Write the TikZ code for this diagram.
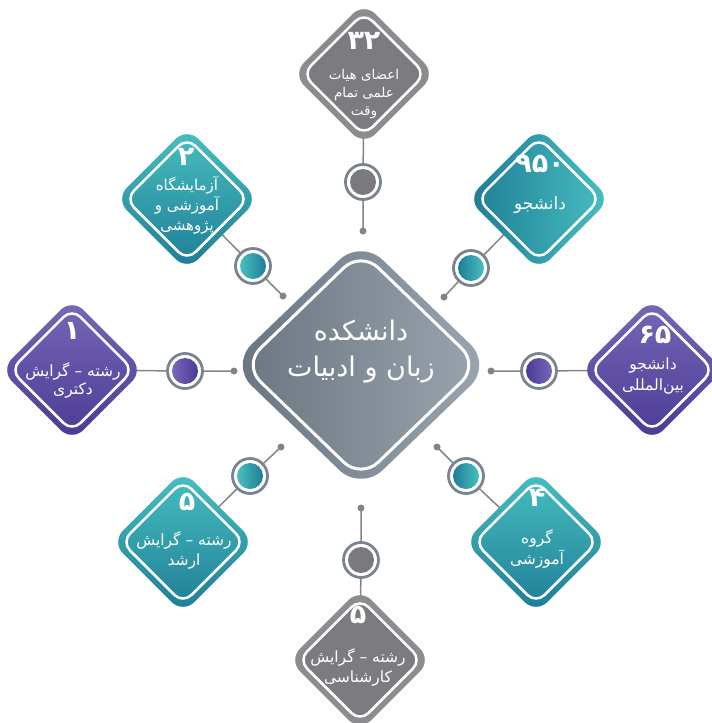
\documentclass[tikz,border=0pt]{standalone}
\usepackage{fontspec}
\usetikzlibrary{shapes.geometric}
\newfontfamily\prsfont[Script=Arabic]{DejaVu Sans}
\TeXXeTstate=1
\newcommand\rtl[1]{\beginR #1\endR}
\pgfdeclarelayer{bg}\pgfsetlayers{bg,main}
\definecolor{tealL}{RGB}{72,192,192}
\definecolor{tealD}{RGB}{30,124,150}
\definecolor{purL}{RGB}{120,104,184}
\definecolor{purD}{RGB}{74,58,148}
\definecolor{grayO}{RGB}{140,140,143}
\definecolor{grayI}{RGB}{124,124,128}
\definecolor{grayC}{RGB}{122,122,126}
\definecolor{slateL}{RGB}{106,116,128}
\definecolor{slateR}{RGB}{156,166,176}
\definecolor{ringc}{RGB}{122,132,144}
\definecolor{wire}{RGB}{132,132,135}
\tikzset{
  satd/.style={shape=diamond, minimum width=143pt, minimum height=143pt, inner sep=0pt, rounded corners=16pt},
  sati/.style={shape=diamond, minimum width=124pt, minimum height=124pt, inner sep=0pt, rounded corners=12pt, draw=white, line width=2.5pt},
  cend/.style={shape=diamond, minimum width=262pt, minimum height=252pt, inner sep=0pt, rounded corners=30pt},
  ceni/.style={shape=diamond, minimum width=237pt, minimum height=229pt, inner sep=0pt, rounded corners=24pt, draw=white, line width=3pt},
  ringn/.style={circle, draw=ringc, line width=2.8pt, fill=white, minimum size=35pt, inner sep=0pt},
  cin/.style={circle, minimum size=26pt, inner sep=0pt},
  dotn/.style={circle, fill=wire, minimum size=7pt, inner sep=0pt},
  wireline/.style={draw=wire, line width=1.5pt},
  txt/.style={text=white, font=\prsfont\fontsize{15.5}{19}\selectfont, align=center, inner sep=0pt},
  num/.style={text=white, font=\prsfont\bfseries\fontsize{27}{27}\selectfont, inner sep=0pt},
  ctxt/.style={text=white, font=\prsfont\fontsize{27}{36}\selectfont, align=center, inner sep=0pt}
}
\begin{document}
\begin{tikzpicture}[x=1pt,y=-1pt]
\useasboundingbox (0,0) rectangle (712,723);
% centre
\node[cend, left color=slateL, right color=slateR] (C) at (361,365) {};
\node[ceni] (Ci) at (C) {};
\node[ctxt] (Ct) at (361,352) {\rtl{دانشکده}\\\rtl{زبان و ادبیات}};
% satellites
\node[satd, fill=grayO] (dT) at (364,74) {};
\node[sati, fill=grayI] (iT) at (dT) {};
\node[num] (nT) at (364,41) {۳۲};
\node[txt, font=\prsfont\fontsize{13.5}{18}\selectfont] (tT) at (364,94) {\rtl{اعضای هیات}\\\rtl{علمی تمام}\\\rtl{وقت}};

\node[satd, top color=tealL, bottom color=tealD] (dTL) at (187,199) {};
\node[sati] (iTL) at (dTL) {};
\node[num] (nTL) at (186,157) {۲};
\node[txt, font=\prsfont\fontsize{15}{20}\selectfont] (tTL) at (187,205) {\rtl{آزمایشگاه}\\\rtl{آموزشی و}\\\rtl{پژوهشی}};

\node[satd, left color=tealD, right color=tealL] (dTR) at (539,199) {};
\node[sati] (iTR) at (dTR) {};
\node[num] (nTR) at (540,164) {۹۵۰};
\node[txt, font=\prsfont\fontsize{17}{20}\selectfont] (tTR) at (540,205) {\rtl{دانشجو}};

\node[satd, top color=purL, bottom color=purD] (dL) at (72,370) {};
\node[sati] (iL) at (dL) {};
\node[num] (nL) at (72,331) {۱};
\node[txt, font=\prsfont\fontsize{15.5}{18}\selectfont] (tL) at (73,380) {\rtl{رشته – گرایش}\\\rtl{دکتری}};

\node[satd, top color=purL, bottom color=purD] (dR) at (652,370) {};
\node[sati] (iR) at (dR) {};
\node[num] (nR) at (655,335) {۶۵};
\node[txt, font=\prsfont\fontsize{15.5}{21}\selectfont] (tR) at (653,376) {\rtl{دانشجو}\\\rtl{بین‌المللی}};

\node[satd, top color=tealL, bottom color=tealD] (dBL) at (183,542) {};
\node[sati] (iBL) at (dBL) {};
\node[num] (nBL) at (187,502) {۵};
\node[txt, font=\prsfont\fontsize{15.5}{20}\selectfont] (tBL) at (184,550) {\rtl{رشته – گرایش}\\\rtl{ارشد}};

\node[satd, top color=tealL, bottom color=tealD] (dBR) at (536,542) {};
\node[sati] (iBR) at (dBR) {};
\node[num] (nBR) at (537,498) {۴};
\node[txt, font=\prsfont\fontsize{15.5}{21}\selectfont] (tBR) at (537,549) {\rtl{گروه}\\\rtl{آموزشی}};

\node[satd, fill=grayO] (dB) at (360,660) {};
\node[sati, fill=grayI] (iB) at (dB) {};
\node[num] (nB) at (358,615) {۵};
\node[txt, font=\prsfont\fontsize{15.5}{20}\selectfont] (tB) at (358,667) {\rtl{رشته – گرایش}\\\rtl{کارشناسی}};
% circles and dots
\node[ringn] (cT) at (363,182) {};  \node[cin, fill=grayC] (fT) at (cT) {};
\node[ringn] (cTL) at (253,266) {}; \node[cin, left color=tealL, right color=tealD] (fTL) at (cTL) {};
\node[ringn] (cTR) at (471,268) {}; \node[cin, left color=tealD, right color=tealL] (fTR) at (cTR) {};
\node[ringn] (cL) at (185,371) {};  \node[cin, left color=purL, right color=purD] (fL) at (cL) {};
\node[ringn] (cR) at (539,371) {};  \node[cin, left color=purD, right color=purL] (fR) at (cR) {};
\node[ringn] (cBL) at (250,476) {}; \node[cin, left color=tealL, right color=tealD] (fBL) at (cBL) {};
\node[ringn] (cBR) at (466,476) {}; \node[cin, left color=tealD, right color=tealL] (fBR) at (cBR) {};
\node[ringn] (cB) at (361,560) {};  \node[cin, fill=grayC] (fB) at (cB) {};
\node[dotn] (pT) at (363,231) {};
\node[dotn] (pTL) at (283,296) {};
\node[dotn] (pTR) at (444,297) {};
\node[dotn] (pL) at (234,371) {};
\node[dotn] (pR) at (491,371) {};
\node[dotn] (pBL) at (281,447) {};
\node[dotn] (pBR) at (437,447) {};
\node[dotn] (pB) at (361,508) {};
\begin{pgfonlayer}{bg}
\draw[wireline] (pT.center) -- (cT.center) -- (dT.center);
\draw[wireline] (pTL.center) -- (cTL.center) -- (dTL.center);
\draw[wireline] (pTR.center) -- (cTR.center) -- (dTR.center);
\draw[wireline] (pL.center) -- (cL.center) -- (dL.center);
\draw[wireline] (pR.center) -- (cR.center) -- (dR.center);
\draw[wireline] (pBL.center) -- (cBL.center) -- (dBL.center);
\draw[wireline] (pBR.center) -- (cBR.center) -- (dBR.center);
\draw[wireline] (pB.center) -- (cB.center) -- (dB.center);
\end{pgfonlayer}
\end{tikzpicture}
\end{document}
